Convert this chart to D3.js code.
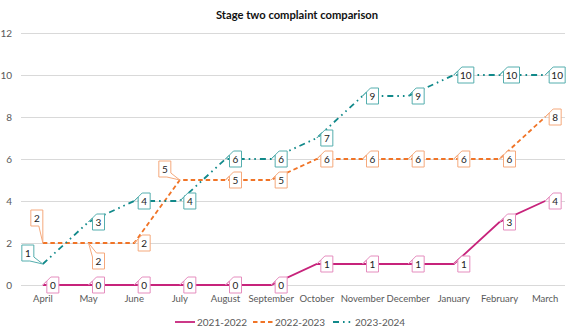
<!DOCTYPE html>
<html><head><meta charset="utf-8">
<script src="https://cdn.jsdelivr.net/npm/d3@7"></script>
<style>
html,body{margin:0;padding:0;background:#fff;}
svg{display:block;font-family:Lato, "Open Sans", sans-serif;}
</style></head>
<body><svg id="c" width="573" height="334"></svg>
<script>
const months = ["April","May","June","July","August","September","October","November","December","January","February","March"];
const seriesNames = ["2021-2022","2022-2023","2023-2024"];
const values2021 = [0,0,0,0,0,0,1,1,1,1,3,4];
const values2022 = [2,2,2,5,5,5,6,6,6,6,6,8];
const values2023 = [1,3,4,4,6,6,7,9,9,10,10,10];
const yTicks = [0,2,4,6,8,10,12];
const title = "Stage two complaint comparison";
// label placement hints (r = right of point, ul = above-left, l = left, dr = below-right)
const place2021 = ["r","r","r","r","r","r","r","r","r","r","r","r"];
const place2022 = ["ul","dr","r","l","r","r","r","r","r","r","r","r"];
const place2023 = ["l","r","r","r","r","r","r","r","r","r","r","r"];

const series = [
  {name: seriesNames[0], values: values2021, place: place2021, color:"#C7237B", box:"#E58DBE", dash:null},
  {name: seriesNames[1], values: values2022, place: place2022, color:"#F07427", box:"#F5A97C", dash:"4.5,3"},
  {name: seriesNames[2], values: values2023, place: place2023, color:"#11898A", box:"#55AEAE", dash:"6,4,1.6,4,1.6,4"}
];

const svg = d3.select("#c");
const x = d3.scaleBand().domain(months).range([20, 568]);
const y = d3.scaleLinear().domain([0,12]).range([285, 33]);
const cx = m => x(m) + x.bandwidth()/2;

svg.append("text").attr("x", 297).attr("y", 19).attr("text-anchor","middle")
  .attr("font-size", 11.2).attr("font-weight", 700).attr("fill","#111").text(title);

// gridlines
const yAxis = d3.axisLeft(y).tickValues(yTicks).tickSize(-(565-21)).tickPadding(9);
const gy = svg.append("g").attr("transform","translate(21,0)").call(yAxis);
gy.select(".domain").remove();
gy.selectAll(".tick line").attr("stroke","#d9d9d9").attr("stroke-width",1);
gy.selectAll(".tick text").attr("fill","#595959").attr("font-size",10).attr("font-family","Lato, sans-serif");

const xAxis = d3.axisBottom(x).tickSize(0).tickPadding(10);
const gx = svg.append("g").attr("transform","translate(0,285)").call(xAxis);
gx.select(".domain").remove();
gx.selectAll(".tick text").attr("fill","#595959").attr("font-size",9.5).attr("font-family","Lato, sans-serif");

const line = d3.line().x((d,i)=>cx(months[i])).y(d=>y(d));
series.forEach(s => {
  svg.append("path").datum(s.values).attr("d", line).attr("fill","none")
    .attr("stroke", s.color).attr("stroke-width", 1.8)
    .attr("stroke-dasharray", s.dash);
});

// callout labels
function callout(g, px, py, txt, pl, stroke) {
  const w = txt.length > 1 ? 16 : 12, h = 16, d = 4;
  let x0, y0, corner;
  if (pl === "r") { x0 = px + 4; y0 = py - 8; corner = "tl"; }
  else if (pl === "ul") { x0 = px - w; y0 = py - 33; corner = "br"; }
  else if (pl === "l") { x0 = px - 9 - w; y0 = py - 19; corner = "br"; }
  else { x0 = px + 4; y0 = py + 10; corner = "tl"; }
  const x1 = x0 + w, y1 = y0 + h;
  let p;
  if (corner === "tl") p = `M${x0},${y0+d}L${px},${py}L${x0+d},${y0}L${x1},${y0}L${x1},${y1}L${x0},${y1}Z`;
  else p = `M${x1},${y1-d}L${px},${py}L${x1-d},${y1}L${x0},${y1}L${x0},${y0}L${x1},${y0}Z`;
  g.append("path").attr("d", p).attr("fill","#fff").attr("stroke", stroke).attr("stroke-width",1);
  g.append("text").attr("x", (x0+x1)/2).attr("y", (y0+y1)/2 + 3.6).attr("text-anchor","middle")
    .attr("font-size", 10).attr("fill","#222").text(txt);
}
series.forEach(s => {
  const g = svg.append("g");
  s.values.forEach((v,i) => callout(g, cx(months[i]), y(v), String(v), s.place[i], s.box));
});

// legend
const lg = svg.append("g").attr("transform","translate(0,322)");
const legX = [175, 253, 333];
series.forEach((s,i) => {
  lg.append("line").attr("x1", legX[i]).attr("x2", legX[i]+20).attr("y1",0).attr("y2",0)
    .attr("stroke", s.color).attr("stroke-width",1.8).attr("stroke-dasharray", s.dash);
  lg.append("text").attr("x", legX[i]+22).attr("y", 3.5).attr("font-size",10).attr("fill","#595959").text(s.name);
});
</script></body></html>
